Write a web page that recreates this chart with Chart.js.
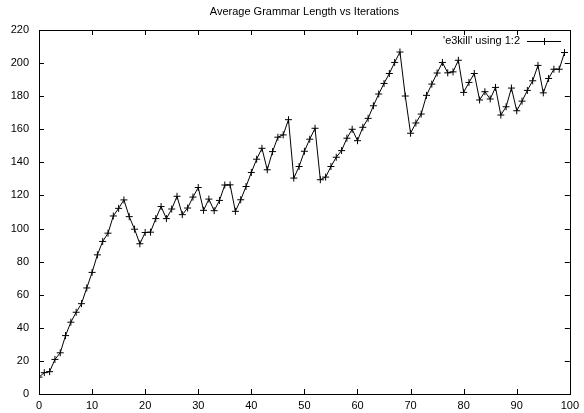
<!DOCTYPE html>
<html>
<head>
<meta charset="utf-8">
<script src="https://cdn.jsdelivr.net/npm/chart.js@4"></script>
<style>
  body { margin: 0; background: #fff; }
</style>
</head>
<body>
<canvas id="chart" width="584" height="413"></canvas>
<script>
const title = "Average Grammar Length vs Iterations";
const seriesLabel = "'e3kill' using 1:2";

const iterations = Array.from({ length: 100 }, (_, i) => i);
const grammarLength = [
  10.2, 12.9, 13.5, 20.9, 24.9, 35.3, 43.4, 49.4, 54.6, 64.1,
  73.5, 84.1, 92.2, 97.2, 107.6, 112.2, 117.3, 107.2, 99.6, 90.8,
  97.6, 97.8, 106, 113.3, 106, 111.8, 119.5, 108.4, 112.4, 119,
  124.8, 111, 117.8, 110.8, 117, 126.3, 126.4, 110.4, 117.4, 125.4,
  133.9, 141.9, 148.5, 135.5, 146.5, 155.2, 156.6, 165.8, 130.5, 137.5,
  146.7, 154, 160.6, 129.5, 131.1, 137.5, 143.1, 147.1, 154.6, 160,
  153.1, 161.2, 166.6, 174.2, 181.3, 187.7, 193.7, 200.4, 206.7, 180.1,
  157.6, 163.8, 169.2, 180.5, 187.3, 194, 200.4, 194.1, 194.7, 201.7,
  182.3, 188.3, 193.7, 177.7, 182.7, 178.3, 185.3, 168.6, 173.6, 184.9,
  171.2, 177, 183.5, 189.3, 198.6, 182, 190.7, 196.3, 196.3, 206.4
];

const FONT = "11px 'Liberation Sans', Arial, sans-serif";

// gnuplot-ish frame: border, inward ticks on all four sides, title and key
const framePlugin = {
  id: "frame",
  afterDatasetsDraw(chart) {
    const { ctx, chartArea: a, scales } = chart;
    ctx.save();
    ctx.strokeStyle = "#000";
    ctx.lineWidth = 1;
    ctx.strokeRect(Math.round(a.left) + 0.5, Math.round(a.top) + 0.5,
      Math.round(a.right - a.left), Math.round(a.bottom - a.top));
    const t = 5;
    ctx.beginPath();
    scales.x.ticks.forEach(tk => {
      const x = Math.round(scales.x.getPixelForValue(tk.value)) + 0.5;
      ctx.moveTo(x, a.bottom); ctx.lineTo(x, a.bottom - t);
      ctx.moveTo(x, a.top); ctx.lineTo(x, a.top + t);
    });
    scales.y.ticks.forEach(tk => {
      const y = Math.round(scales.y.getPixelForValue(tk.value)) + 0.5;
      ctx.moveTo(a.left, y); ctx.lineTo(a.left + t, y);
      ctx.moveTo(a.right, y); ctx.lineTo(a.right - t, y);
    });
    ctx.stroke();

    ctx.fillStyle = "#000";
    ctx.font = FONT;
    ctx.textBaseline = "middle";
    ctx.textAlign = "center";
    ctx.fillText(title, (a.left + a.right) / 2, 12);

    // key
    const ky = 41;
    ctx.textAlign = "right";
    ctx.fillText(seriesLabel, 520, ky);
    ctx.beginPath();
    ctx.moveTo(527, ky + 0.5); ctx.lineTo(561, ky + 0.5);
    ctx.moveTo(544.5, ky - 3); ctx.lineTo(544.5, ky + 4);
    ctx.stroke();
    ctx.restore();
  }
};

new Chart(document.getElementById("chart"), {
  type: "line",
  data: {
    labels: iterations,
    datasets: [{
      label: seriesLabel,
      data: iterations.map((x, i) => ({ x, y: grammarLength[i] })),
      borderColor: "#000",
      borderWidth: 1,
      pointStyle: "cross",
      pointRadius: 3.5,
      pointBorderColor: "#000",
      pointBorderWidth: 1,
      tension: 0,
      fill: false
    }]
  },
  options: {
    responsive: false,
    animation: false,
    layout: { padding: { top: 30, right: 10, left: 0, bottom: 0 } },
    plugins: {
      legend: { display: false },
      title: { display: false },
      tooltip: { enabled: false }
    },
    scales: {
      x: {
        type: "linear",
        min: 0,
        max: 100,
        grid: { display: false, drawTicks: false },
        border: { display: false },
        ticks: {
          stepSize: 10,
          padding: 5,
          color: "#000",
          maxRotation: 0,
          font: { family: "'Liberation Sans', Arial, sans-serif", size: 11 }
        },
        afterFit(scale) { scale.height = 19; }
      },
      y: {
        min: 0,
        max: 220,
        grid: { display: false, drawTicks: false },
        border: { display: false },
        ticks: {
          stepSize: 20,
          padding: 10,
          color: "#000",
          font: { family: "'Liberation Sans', Arial, sans-serif", size: 11 }
        },
        afterFit(scale) { scale.width = 39; }
      }
    }
  },
  plugins: [framePlugin]
});
</script>
</body>
</html>
